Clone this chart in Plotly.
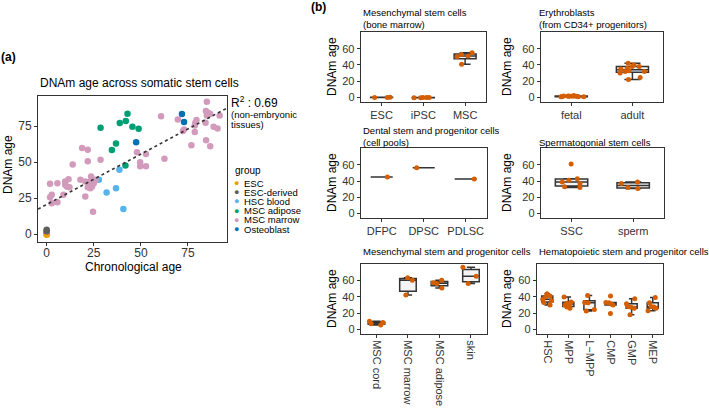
import plotly.graph_objects as go

W, H = 709, 412
FONT = "Liberation Sans, Arial, sans-serif"
INK = "#333333"
ORANGE = "#D55E00"

# ---- panel (a): DNAm age vs chronological age ----
groups = ["ESC", "ESC-derived", "HSC blood", "MSC adipose", "MSC marrow", "Osteoblast"]
group_colors = ["#E69F00", "#5F5F5F", "#56B4E9", "#009E73", "#D29BBB", "#0072B2"]

esc_age = [0, 0, 0, 0, 0]
esc_dnam = [0, 0.5, 1, 1.5, -0.5]
escd_age = [0, 0]
escd_dnam = [2, 3]
hsc_age = [27.7, 31.8, 36.8, 38.6, 40.7]
hsc_dnam = [37.8, 28.9, 31.9, 44.8, 17.5]
adip_age = [28.6, 38.8, 42.0, 42.9, 45.5, 48.8, 36.8, 34.6, 41.8]
adip_dnam = [73.9, 77.2, 78.6, 83.7, 74.6, 73.2, 62.9, 58.5, 47.6]
marrow_age = [1.8, 2.7, 1.8, 2.7, 5.7, 5.7, 8.9, 9.8, 9.8, 10.7, 11.6, 12.1, 13.8, 17.9,
              18.8, 21.8, 21.8, 20.5, 24.6, 20.5, 22.3, 23.2, 23.6, 24.1, 25.0, 25.9, 21.8,
              23.2, 28.6, 47.9, 52.7, 49.6, 49.6, 52.7, 62.5, 60.7, 69.6, 72.3, 72.9, 76.8,
              78.6, 78.9, 79.5, 78.6, 84.5, 85.0, 85.7, 86.8, 84.3, 84.6, 86.8, 88.6, 90.7,
              91.8, 85.0]
marrow_dnam = [35.0, 27.3, 25.6, 21.4, 35.4, 22.1, 27.3, 36.6, 34.3, 33.1, 38.2, 32.6, 48.3,
               37.8, 59.9, 58.7, 50.6, 26.1, 15.6, 36.6, 34.3, 36.6, 40.1, 33.1, 35.4, 37.8,
               32.6, 31.9, 51.7, 56.9, 55.7, 49.9, 47.1, 47.1, 52.4, 82.0, 79.7, 71.6, 72.7,
               61.8, 70.9, 77.4, 79.3, 75.5, 85.5, 82.5, 84.4, 83.4, 77.4, 65.3, 61.1, 74.6,
               73.4, 82.5, 92.0]
osteo_age = [71.8, 72.9, 47.5]
osteo_dnam = [83.4, 77.9, 63.9]

group_age = [esc_age, escd_age, hsc_age, adip_age, marrow_age, osteo_age]
group_dnam = [esc_dnam, escd_dnam, hsc_dnam, adip_dnam, marrow_dnam, osteo_dnam]

# regression line (non-embryonic tissues)
fit_intercept = 20.6
fit_slope = 0.70
r2_label = "0.69"

# ---- panel (b): six box plots ----
b_titles = [
    ["Mesenchymal stem cells", "(bone marrow)"],
    ["Erythroblasts", "(from CD34+ progenitors)"],
    ["Dental stem and progenitor cells", "(cell pools)"],
    ["Spermatogonial stem cells"],
    ["Mesenchymal stem and progenitor cells"],
    ["Hematopoietic stem and progenitor cells"],
]
b1_cats = ["ESC", "iPSC", "MSC"]
b1_vals = [[0, 0.3, 0], [-0.3, 0, 0, -0.2, 0], [51, 50, 53, 41, 55]]
b2_cats = ["fetal", "adult"]
b2_vals = [[1, 1.5, 1, 2.5, 1.5, 2, 1, 1.5, 2, 1, 1.5],
           [38, 36, 33, 38, 32, 40, 24.5, 32, 22, 30, 42, 35]]
b3_cats = ["DFPC", "DPSC", "PDLSC"]
b3_vals = [[45], [56.5], [42.5]]
b4_cats = ["SSC", "sperm"]
b4_vals = [[61, 43, 41, 37, 39, 33, 32], [32, 31, 37, 39]]
b5_cats = ["MSC cord", "MSC marrow", "MSC adipose", "skin"]
b5_vals = [[5.5, 10, 7, 8.5], [63, 60, 42], [50.5, 60, 57, 56], [56, 76, 65]]
b6_cats = ["HSC", "MPP", "L\u2212MPP", "CMP", "GMP", "MEP"]
b6_vals = [[43.5, 40, 33, 41, 37, 30, 35],
           [39.5, 31, 26, 33.5, 30, 27.5, 32],
           [32.5, 41.5, 24.5, 22.5, 33],
           [33, 32.5, 41, 19.5, 30, 31],
           [27, 31.5, 37.5, 18, 26, 28],
           [23, 26, 32.5, 27.5, 39, 28]]
b_cats = [b1_cats, b2_cats, b3_cats, b4_cats, b5_cats, b6_cats]
b_vals = [b1_vals, b2_vals, b3_vals, b4_vals, b5_vals, b6_vals]


def px(x):
    return x / W


def py(y):
    return 1 - y / H


def text(x, y, s, size=12, xanchor="left", angle=0, color="#000000"):
    return dict(x=px(x), y=py(y), xref="paper", yref="paper", text=s, showarrow=False,
                xanchor=xanchor, yanchor="middle", textangle=angle,
                font=dict(family=FONT, size=size, color=color))


fig = go.Figure()

# scatter
for g, c, xa, ya in zip(groups, group_colors, group_age, group_dnam):
    fig.add_trace(go.Scatter(x=xa, y=ya, mode="markers", name=g, showlegend=False,
                             marker=dict(color=c, size=6.5), xaxis="x", yaxis="y"))

xr_a = [-4.6, 95.7]
fig.add_trace(go.Scatter(x=xr_a, y=[fit_intercept + fit_slope * v for v in xr_a],
                         mode="lines", showlegend=False,
                         line=dict(color=INK, width=1.6, dash="dot"),
                         xaxis="x", yaxis="y"))

axis_common = dict(showline=True, mirror=True, linecolor=INK, linewidth=1, showgrid=False,
                   zeroline=False, ticks="outside", ticklen=3, tickcolor=INK,
                   tickfont=dict(family=FONT, size=12, color=INK))

layout = dict(
    xaxis=dict(domain=[px(38), px(227)], range=xr_a, tickvals=[0, 25, 50, 75],
               anchor="y", ticklabelstandoff=-3, **axis_common),
    yaxis=dict(domain=[py(242), py(96)], range=[-5.5, 96], tickvals=[0, 25, 50, 75],
               anchor="x", **axis_common),
)

# box panels: (x0, x1, ytop, ybottom) in pixels
frames = [(360.7, 486.0, 32, 102), (540.7, 663.0, 32, 102),
          (360.7, 486.7, 148.3, 218), (540.7, 664.0, 148.3, 218),
          (360.7, 486.7, 263.5, 334), (536.7, 663.3, 263.5, 334)]

b_common = dict(axis_common)
b_common["tickfont"] = dict(family=FONT, size=11, color=INK)
CLEAR = "rgba(0,0,0,0)"

for i, (cats, vals, fr) in enumerate(zip(b_cats, b_vals, frames)):
    n = i + 2
    xs, ys = [], []
    for cat, v in zip(cats, vals):
        xs += [cat] * len(v)
        ys += v
    # box with 1.5*IQR whiskers (outlier markers hidden)
    fig.add_trace(go.Box(x=xs, y=ys, boxpoints="outliers", fillcolor="#F4F4F4",
                         line=dict(color=INK, width=1.5), marker=dict(color=CLEAR, size=1),
                         showlegend=False, hoverinfo="skip",
                         xaxis=f"x{n}", yaxis=f"y{n}"))
    # jittered points on top
    fig.add_trace(go.Box(x=xs, y=ys, boxpoints="all", jitter=1, pointpos=0,
                         fillcolor=CLEAR, line=dict(color=CLEAR, width=0),
                         marker=dict(color=ORANGE, size=5), showlegend=False,
                         xaxis=f"x{n}", yaxis=f"y{n}"))
    x0, x1, yt, yb = fr
    layout[f"xaxis{n}"] = dict(domain=[px(x0), px(x1)], anchor=f"y{n}", type="category",
                               range=[-0.5, len(cats) - 0.5],
                               tickangle=90 if i >= 4 else 0, **b_common)
    layout[f"yaxis{n}"] = dict(domain=[py(yb), py(yt)], anchor=f"x{n}", range=[-5.5, 80.5],
                               tickvals=[0, 20, 40, 60], **b_common)

# texts
ann = [
    text(8, 57, "<b>(a)</b>", 12, "center"),
    text(318, 7, "<b>(b)</b>", 12, "center"),
    text(38, 83, "DNAm age across somatic stem cells", 12),
    text(133, 267, "Chronological age", 12, "center"),
    text(8, 165, "DNAm age", 12, "center", -90),
    text(229, 102, "R<sup>2</sup> : " + r2_label, 12),
    text(229, 114, "(non-embryonic", 9.5),
    text(229, 125, "tissues)", 9.5),
    text(233, 171, "group", 10),
]
for k, (g, c) in enumerate(zip(groups, group_colors)):
    yy = 183 + k * 9.2
    ann.append(text(236.5, yy, "\u25CF", 9, "center", color=c))
    ann.append(text(242, yy, g, 9.5))

title_pos = [(361, [13, 25]), (537, [13, 25]), (361, [130, 142]), (537, [142]),
             (361, [252]), (537, [252])]
for lines, (tx, tys) in zip(b_titles, title_pos):
    for s, ty in zip(lines, tys):
        ann.append(text(tx, ty, s, 9.5))

for cx in (332, 507):
    for cy in (67, 183, 299):
        ann.append(text(cx, cy, "DNAm age", 12, "center", -90))

fig.update_layout(
    width=W, height=H, autosize=False,
    margin=dict(l=0, r=0, t=0, b=0),
    paper_bgcolor="white", plot_bgcolor="white",
    boxgap=0.25, boxmode="overlay",
    annotations=ann,
    font=dict(family=FONT),
    **layout,
)

fig.write_html("out.html", config={"displayModeBar": False},
               post_script="document.body.style.margin='0';")
